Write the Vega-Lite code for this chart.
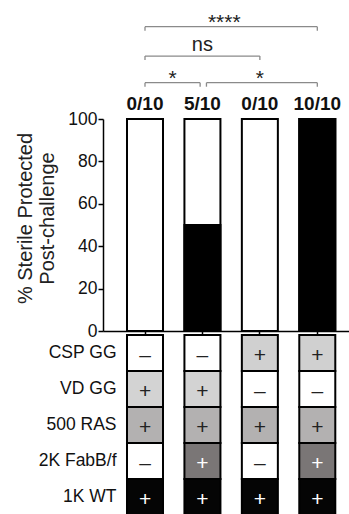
{
  "$schema": "https://vega.github.io/schema/vega-lite/v6.json",
  "padding": {"left": 15, "top": 0, "right": 0, "bottom": 0},
  "background": "white",
  "config": {"font": "Liberation Sans", "view": {"stroke": null}, "axis": {"grid": false}},
  "spacing": 4,
  "bounds": "flush",
  "vconcat": [
    {
      "width": 247,
      "height": 115,
      "data": {"values": [
        {"comparison": "G1 vs G4", "from": 1, "to": 4, "level": 3, "label": "****", "mid": 2.38},
        {"comparison": "G1 vs G3", "from": 1, "to": 3, "level": 1.95, "label": "ns", "mid": 2.0},
        {"comparison": "G1 vs G2", "from": 1, "to": 1.96, "level": 1, "label": "*", "mid": 1.48},
        {"comparison": "G2 vs G4", "from": 2.07, "to": 4, "level": 1, "label": "*", "mid": 3.0}
      ]},
      "layer": [
        {
          "mark": {"type": "rule", "color": "#8a8a8a", "strokeWidth": 1.3},
          "encoding": {
            "x": {"field": "from", "type": "quantitative", "scale": {"domain": [0.269, 4.569], "nice": false, "zero": false}, "axis": null},
            "x2": {"field": "to"},
            "y": {"field": "level", "type": "quantitative", "scale": {"domain": [-0.154, 3.953], "nice": false, "zero": false}, "axis": null}
          }
        },
        {
          "mark": {"type": "rule", "color": "#8a8a8a", "strokeWidth": 1.3, "y2Offset": 4},
          "encoding": {
            "x": {"field": "from", "type": "quantitative"},
            "y": {"field": "level", "type": "quantitative"},
            "y2": {"field": "level"}
          }
        },
        {
          "mark": {"type": "rule", "color": "#8a8a8a", "strokeWidth": 1.3, "y2Offset": 4},
          "encoding": {
            "x": {"field": "to", "type": "quantitative"},
            "y": {"field": "level", "type": "quantitative"},
            "y2": {"field": "level"}
          }
        },
        {
          "transform": [{"filter": "datum.label !== 'ns'"}],
          "mark": {"type": "text", "fontSize": 21, "baseline": "alphabetic", "dy": 2, "color": "#222"},
          "encoding": {
            "x": {"field": "mid", "type": "quantitative"},
            "y": {"field": "level", "type": "quantitative"},
            "text": {"field": "label"}
          }
        },
        {
          "transform": [{"filter": "datum.label === 'ns'"}],
          "mark": {"type": "text", "fontSize": 20, "baseline": "alphabetic", "dy": -5, "color": "#222"},
          "encoding": {
            "x": {"field": "mid", "type": "quantitative"},
            "y": {"field": "level", "type": "quantitative"},
            "text": {"field": "label"}
          }
        }
      ]
    },
    {
      "width": 247,
      "height": 212,
      "data": {"values": [
        {"group": "G1", "protected": 0, "label": "0/10"},
        {"group": "G2", "protected": 50, "label": "5/10"},
        {"group": "G3", "protected": 0, "label": "0/10"},
        {"group": "G4", "protected": 100, "label": "10/10"}
      ]},
      "encoding": {
        "x": {
          "field": "group", "type": "nominal",
          "scale": {"paddingInner": 0.373, "paddingOuter": 0.337, "align": 0.62},
          "axis": {"labels": false, "title": null, "ticks": true, "tickSize": 4, "tickColor": "black", "tickWidth": 1.5, "domainColor": "black", "domainWidth": 1.5}
        }
      },
      "layer": [
        {
          "mark": {"type": "bar", "fill": "white", "stroke": "black", "strokeWidth": 2},
          "encoding": {
            "y": {
              "datum": 100, "type": "quantitative",
              "scale": {"domain": [0, 100], "nice": false},
              "axis": {
                "values": [0, 20, 40, 60, 80, 100],
                "title": ["% Sterile Protected", "Post-challenge"],
                "titleFontSize": 20, "titleFontWeight": "normal", "titleColor": "#222", "titlePadding": 10, "titleLineHeight": 22, "titleY": 99,
                "labelFontSize": 17.5, "labelColor": "#111", "labelPadding": 1,
                "tickSize": 5, "tickColor": "black", "tickWidth": 1.5,
                "domainColor": "black", "domainWidth": 1.5
              }
            }
          }
        },
        {
          "mark": {"type": "bar", "fill": "black", "stroke": "black", "strokeWidth": 2},
          "encoding": {"y": {"field": "protected", "type": "quantitative"}}
        },
        {
          "mark": {"type": "text", "fontSize": 19, "fontWeight": "bold", "baseline": "alphabetic", "dy": -9, "color": "#111"},
          "encoding": {"y": {"datum": 100, "type": "quantitative"}, "text": {"field": "label"}}
        }
      ]
    },
    {
      "width": 247,
      "height": 180,
      "data": {"values": [
        {"group": "G1", "component": "CSP GG", "sign": "–"},
        {"group": "G2", "component": "CSP GG", "sign": "–"},
        {"group": "G3", "component": "CSP GG", "sign": "+"},
        {"group": "G4", "component": "CSP GG", "sign": "+"},
        {"group": "G1", "component": "VD GG", "sign": "+"},
        {"group": "G2", "component": "VD GG", "sign": "+"},
        {"group": "G3", "component": "VD GG", "sign": "–"},
        {"group": "G4", "component": "VD GG", "sign": "–"},
        {"group": "G1", "component": "500 RAS", "sign": "+"},
        {"group": "G2", "component": "500 RAS", "sign": "+"},
        {"group": "G3", "component": "500 RAS", "sign": "+"},
        {"group": "G4", "component": "500 RAS", "sign": "+"},
        {"group": "G1", "component": "2K FabB/f", "sign": "–"},
        {"group": "G2", "component": "2K FabB/f", "sign": "+"},
        {"group": "G3", "component": "2K FabB/f", "sign": "–"},
        {"group": "G4", "component": "2K FabB/f", "sign": "+"},
        {"group": "G1", "component": "1K WT", "sign": "+"},
        {"group": "G2", "component": "1K WT", "sign": "+"},
        {"group": "G3", "component": "1K WT", "sign": "+"},
        {"group": "G4", "component": "1K WT", "sign": "+"}
      ]},
      "encoding": {
        "x": {
          "field": "group", "type": "nominal",
          "scale": {"paddingInner": 0.373, "paddingOuter": 0.337, "align": 0.62},
          "axis": null
        },
        "y": {
          "field": "component", "type": "nominal",
          "sort": ["CSP GG", "VD GG", "500 RAS", "2K FabB/f", "1K WT"],
          "scale": {"paddingInner": 0, "paddingOuter": 0},
          "axis": {"title": null, "domain": false, "ticks": false, "labelFontSize": 17.5, "labelColor": "#111", "labelPadding": 2, "offset": -15}
        }
      },
      "layer": [
        {
          "mark": {"type": "rect", "stroke": "black", "strokeWidth": 2},
          "encoding": {
            "color": {
              "condition": {"test": "datum.sign === '–'", "value": "white"},
              "field": "component", "type": "nominal",
              "scale": {"domain": ["CSP GG", "VD GG", "500 RAS", "2K FabB/f", "1K WT"], "range": ["#d0d0d0", "#d3d3d3", "#b3b1b1", "#7a7676", "#050505"]},
              "legend": null
            }
          }
        },
        {
          "mark": {"type": "text", "fontSize": 21, "dy": 3},
          "encoding": {
            "text": {"field": "sign"},
            "color": {
              "condition": {"test": "datum.sign === '+' && (datum.component === '2K FabB/f' || datum.component === '1K WT')", "value": "white"},
              "value": "#222"
            }
          }
        }
      ]
    }
  ]
}
